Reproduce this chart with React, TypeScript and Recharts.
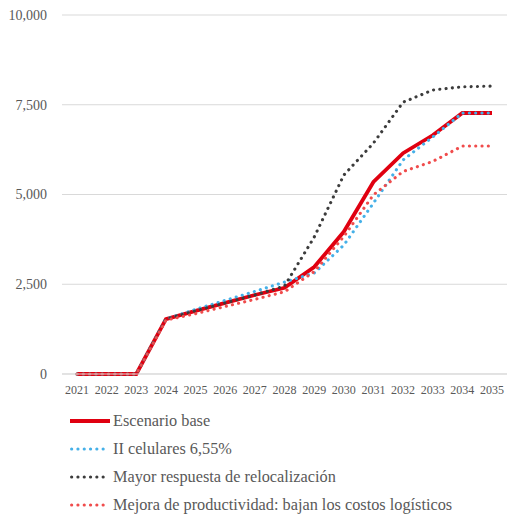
import React from "react";
import { LineChart, Line, XAxis, YAxis, CartesianGrid, Legend } from "recharts";

const years = ["2021","2022","2023","2024","2025","2026","2027","2028","2029","2030","2031","2032","2033","2034","2035"];
const base = [0, 0, 0, 1530, 1760, 1980, 2200, 2400, 2980, 3960, 5350, 6150, 6650, 7270, 7270];
const celulares = [0, 0, 0, 1530, 1800, 2050, 2300, 2560, 2810, 3590, 4760, 5960, 6600, 7270, 7270];
const relocalizacion = [0, 0, 0, 1530, 1760, 1980, 2200, 2450, 3810, 5540, 6430, 7570, 7910, 8000, 8020];
const productividad = [0, 0, 0, 1500, 1680, 1880, 2080, 2290, 2850, 3830, 4990, 5640, 5920, 6350, 6350];
const yTicks = [0, 2500, 5000, 7500, 10000];

const seriesNames = [
  "Escenario base",
  "II celulares 6,55%",
  "Mayor respuesta de relocalización",
  "Mejora de productividad: bajan los costos logísticos",
];

const data = years.map((y, i) => ({
  year: y,
  base: base[i],
  celulares: celulares[i],
  relocalizacion: relocalizacion[i],
  productividad: productividad[i],
}));

const FONT = "Liberation Serif, DejaVu Serif, serif";
const TEXT = "#595959";
const DOTS = "0.1 6.2";
const DOT_W = 3.1;

const legendItems = [
  { name: seriesNames[0], color: "#E00010", dotted: false },
  { name: seriesNames[1], color: "#45B0E8", dotted: true },
  { name: seriesNames[2], color: "#3C3C3C", dotted: true },
  { name: seriesNames[3], color: "#F04C4C", dotted: true },
];

const LegendContent = () => (
  <div style={{ fontFamily: FONT, fontSize: 16.3, color: TEXT, paddingLeft: 70, textAlign: "left" }}>
    {legendItems.map((it) => (
      <div key={it.name} style={{ height: 28, display: "flex", alignItems: "center" }}>
        <svg width={43} height={6} style={{ display: "block" }}>
          {it.dotted ? (
            <line x1={1.6} y1={3} x2={38} y2={3} stroke={it.color} strokeWidth={DOT_W} strokeLinecap="round" strokeDasharray={DOTS} />
          ) : (
            <line x1={0} y1={3} x2={40} y2={3} stroke={it.color} strokeWidth={3.8} />
          )}
        </svg>
        <span style={{ whiteSpace: "nowrap" }}>{it.name}</span>
      </div>
    ))}
  </div>
);

export default function App() {
  return (
    <div style={{ position: "absolute", left: 0, top: 0, background: "#fff", fontFamily: FONT }}>
      <LineChart
        width={521}
        height={524}
        data={data}
        margin={{ top: 15, right: 14, left: 0, bottom: 7 }}
        style={{ fontFamily: FONT }}
      >
        <CartesianGrid horizontal vertical={false} stroke="#D9D9D9" strokeWidth={1} />
        <XAxis
          dataKey="year"
          height={33}
          padding={{ left: 15, right: 15 }}
          axisLine={{ stroke: "#D9D9D9" }}
          tickLine={false}
          tickSize={0}
          tickMargin={11}
          interval={0}
          tick={{ fill: TEXT, fontSize: 12, fontFamily: FONT }}
        />
        <YAxis
          width={62}
          domain={[0, 10000]}
          ticks={yTicks}
          axisLine={false}
          tickLine={false}
          tickSize={0}
          tickMargin={15}
          tickFormatter={(v: number) => v.toLocaleString("en-US")}
          tick={{ fill: TEXT, fontSize: 14, fontFamily: FONT }}
        />
        <Legend
          verticalAlign="bottom"
          align="left"
          layout="horizontal"
          height={110}
          wrapperStyle={{ left: 0, width: 521 }}
          content={<LegendContent />}
        />
        <Line dataKey="base" name={seriesNames[0]} stroke="#E00010" strokeWidth={3.8} dot={false} isAnimationActive={false} />
        <Line dataKey="celulares" name={seriesNames[1]} stroke="#45B0E8" strokeWidth={DOT_W} strokeLinecap="round" strokeDasharray={DOTS} dot={false} isAnimationActive={false} />
        <Line dataKey="relocalizacion" name={seriesNames[2]} stroke="#3C3C3C" strokeWidth={DOT_W} strokeLinecap="round" strokeDasharray={DOTS} dot={false} isAnimationActive={false} />
        <Line dataKey="productividad" name={seriesNames[3]} stroke="#F04C4C" strokeWidth={DOT_W} strokeLinecap="round" strokeDasharray={DOTS} dot={false} isAnimationActive={false} />
      </LineChart>
    </div>
  );
}
